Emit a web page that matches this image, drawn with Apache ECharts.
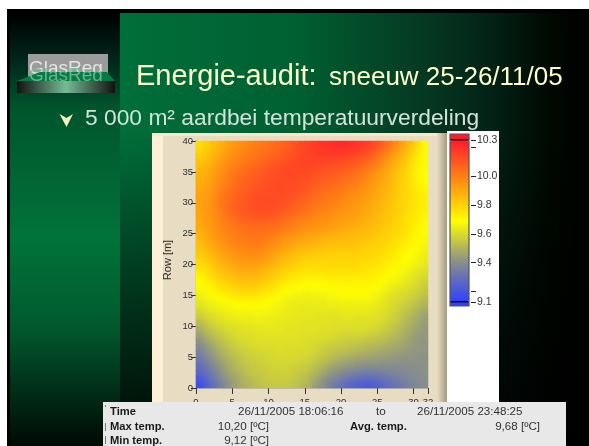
<!DOCTYPE html>
<html><head><meta charset="utf-8">
<style>html,body{margin:0;padding:0;background:#fff;overflow:hidden}#c{width:589px;height:446px;position:absolute;left:0;top:0}
#soft{position:absolute;left:196.5px;top:141.5px;width:231px;height:246px;overflow:hidden;pointer-events:none}
#softInner{width:231px;height:246px;filter:blur(3px)}</style>
<script src="https://cdn.jsdelivr.net/npm/echarts@6/dist/echarts.min.js"></script>
</head><body><div id="c"></div><div id="soft"><div id="softInner"></div></div>
<script>
// Temperature, as hundredths of a degree above 9 degC.
// One row per metre from Row 40 (first) down to Row 0 (last), one column per metre 0..32.
const tempRows = [
[77,81,85,88,92,95,97,99,101,102,104,106,108,111,114,116,118,119,120,121,121,120,119,117,114,110,104,98,92,86,78,68],
[79,83,87,90,94,97,99,101,103,104,106,108,110,112,114,116,117,118,119,119,119,118,116,114,110,105,100,94,89,83,76,68],
[81,85,89,92,96,98,100,102,104,105,107,109,111,112,114,115,116,116,116,116,115,114,112,110,106,101,96,91,86,81,74,68],
[84,87,91,94,98,100,102,104,106,108,110,111,113,114,115,115,115,114,113,113,112,110,108,105,102,98,93,88,84,79,73,68],
[86,89,92,96,100,102,104,106,108,110,112,113,114,114,114,114,113,112,111,110,109,107,105,102,98,95,90,86,82,78,72,68],
[88,90,94,97,101,104,106,108,110,111,112,113,114,114,113,113,111,110,109,108,106,104,102,99,96,93,89,85,81,77,72,69],
[89,91,95,99,102,105,107,109,110,112,113,113,113,113,112,111,110,108,107,105,104,102,100,97,94,91,88,84,80,77,73,70],
[90,92,96,100,103,106,108,110,111,112,113,113,113,113,112,110,108,106,105,103,102,100,98,95,92,90,87,83,80,77,74,71],
[91,93,97,101,104,107,109,111,112,113,113,113,113,112,110,108,106,104,103,102,100,98,96,94,91,89,86,83,80,77,75,72],
[92,94,98,102,105,108,110,112,113,113,113,113,112,110,108,106,104,103,101,100,98,96,94,92,90,88,85,82,80,77,75,73],
[92,94,98,102,106,108,110,112,113,113,113,112,110,108,106,104,102,101,100,98,97,95,93,91,89,87,84,82,79,77,75,73],
[91,94,97,101,105,108,110,111,112,112,111,110,108,106,104,102,100,99,98,96,95,93,92,90,88,86,84,81,79,76,74,72],
[91,94,97,100,103,106,108,109,110,110,109,107,105,103,101,100,98,97,96,94,93,92,90,89,87,85,83,81,78,76,73,71],
[90,93,96,99,101,103,105,106,106,106,105,104,102,100,99,97,96,95,94,92,91,90,89,87,86,84,82,80,78,75,73,70],
[89,92,95,98,100,102,103,104,104,104,103,101,99,98,96,95,93,92,91,90,89,88,87,86,84,83,81,79,77,74,72,69],
[87,90,94,97,99,101,102,103,103,102,100,98,96,94,93,91,90,89,88,87,87,86,85,84,83,81,80,78,76,73,71,68],
[85,89,92,95,98,99,100,101,101,100,98,95,93,91,89,88,87,86,85,85,84,84,83,82,81,80,78,76,74,72,70,67],
[83,87,90,93,96,97,99,99,99,97,95,92,90,88,86,85,84,83,83,82,82,82,82,81,80,79,77,75,73,70,68,66],
[81,84,88,91,93,95,96,97,96,95,92,89,87,85,83,82,81,81,80,80,80,80,80,79,79,77,76,74,71,69,67,65],
[78,81,85,88,91,93,94,94,93,92,89,86,84,82,80,79,79,79,79,79,79,79,78,78,77,76,74,72,70,68,66,64],
[76,79,83,86,88,90,91,91,90,89,86,84,81,79,78,77,77,77,78,78,78,78,77,77,76,74,72,70,68,66,64,62],
[73,76,80,83,85,87,88,88,87,85,83,80,78,76,75,75,75,75,75,75,75,75,75,74,73,72,70,68,66,64,62,60],
[70,73,77,80,82,84,85,85,84,82,80,77,75,73,72,71,71,71,72,73,73,73,73,73,72,70,68,66,65,62,60,58],
[68,71,74,77,79,81,82,82,81,79,77,74,71,70,69,69,69,69,70,71,71,71,71,71,70,68,66,64,63,61,59,56],
[66,68,71,73,76,77,78,78,77,75,73,71,69,67,67,66,67,67,68,68,69,69,70,69,68,66,64,62,61,59,57,54],
[64,66,68,70,72,73,74,74,73,71,70,68,66,65,65,65,65,65,66,66,67,67,67,67,66,64,62,60,59,57,55,52],
[62,64,66,67,68,69,70,70,70,69,67,66,65,64,64,64,64,64,65,65,65,65,65,65,64,63,61,59,57,55,52,50],
[59,62,63,65,66,66,67,67,67,67,66,65,64,64,63,63,63,63,63,63,64,64,64,64,63,62,60,58,55,53,50,47],
[56,59,61,63,64,65,65,65,66,65,65,64,64,63,63,63,62,62,62,62,63,63,62,62,62,61,59,57,54,51,48,45],
[52,56,59,61,62,63,63,64,64,64,64,63,63,63,62,62,62,62,62,61,61,61,61,61,60,59,57,55,52,49,47,44],
[48,53,56,58,60,61,62,62,63,63,63,63,62,62,62,62,62,61,61,61,60,60,60,60,59,57,55,53,50,48,45,43],
[45,50,53,56,58,60,61,61,62,62,62,62,62,62,61,61,61,60,60,59,58,58,58,57,56,55,53,51,49,46,44,43],
[41,46,50,53,56,58,59,60,61,61,61,61,61,61,61,60,60,59,58,57,56,56,55,54,53,52,50,49,47,45,43,42],
[38,43,47,51,54,56,58,59,60,60,60,61,60,60,60,60,58,57,56,55,54,53,52,51,50,49,48,47,45,44,43,42],
[35,40,45,49,52,54,56,57,58,59,59,60,60,60,59,59,57,56,54,52,51,50,49,48,47,46,45,44,43,43,42,42],
[32,37,42,46,50,52,55,56,57,58,59,59,59,59,58,57,55,53,51,49,47,46,45,44,44,43,43,42,42,41,41,41],
[29,34,39,44,48,51,53,55,56,57,58,58,58,57,56,55,53,50,47,45,43,42,41,40,40,40,40,40,40,40,41,41],
[26,31,36,42,46,49,52,54,55,56,57,57,57,56,55,53,50,47,43,41,38,36,35,34,34,35,36,37,38,39,40,41],
[22,27,33,39,44,47,50,52,54,55,56,56,56,55,53,51,47,43,39,36,33,31,29,28,29,30,32,34,36,38,39,40],
[17,24,30,36,42,46,49,51,53,54,55,55,55,54,52,49,44,40,35,31,28,25,23,22,23,25,28,31,33,36,38,40]
];
const scaleTicks = [9.127, 9.204, 9.4, 9.6, 9.8, 10.0, 10.204, 10.253];
const scaleLabels = [9.127, 9.4, 9.6, 9.8, 10.0, 10.253];
const scaleColors = ['#2e40ff','#8a9088','#ffff00','#ff8c12','#ff1a30'];
const tableLeft = [['Time',110,412],['Max temp.',110,427],['Min temp.',110,441],['Avg. temp.',350,427]];
const tableRest = [['26/11/2005 18:06:16',238,412,'left'],['to',376,412,'left'],['26/11/2005 23:48:25',417,412,'left'],
  ['10,20 [ºC]',269,427,'right'],['9,12 [ºC]',269,441,'right'],['9,68 [ºC]',540,427,'right']];

const nCols = tempRows[0].length, nRows = tempRows.length;
const cols = Array.from({length:nCols},(_,i)=>i), rows = Array.from({length:nRows},(_,i)=>i);
const cells = [];
tempRows.forEach((r,ri)=>r.forEach((v,ci)=>cells.push([ci,nRows-1-ri,9+v/100])));

const F='"Liberation Sans",Arial,sans-serif';
const rect=(x,y,w,h,fill,z)=>({type:'rect',shape:{x,y,width:w,height:h},style:{fill},z,silent:true});
const txt=(t,x,y,font,fill,z,align,base)=>({type:'text',x,y,z,silent:true,style:{text:t,font,fill,textAlign:align||'left',textVerticalAlign:base||'middle'}});
const lin=(h,stops)=>({type:'linear',x:0,y:0,x2:h?1:0,y2:h?0:1,colorStops:stops.map(s=>({offset:s[0],color:s[1]}))});

const elements=[
 rect(7,9,582,437,'#000',-20),
 rect(120,13,469,433,lin(true,[[0,'#006f3a'],[0.38,'#005f31'],[0.64,'#053a22'],[0.78,'#032418'],[0.92,'#000800'],[1,'#000']]),-19),
 rect(120,130,469,316,lin(false,[[0,'rgba(0,0,0,0)'],[0.5,'rgba(0,0,0,0.5)'],[0.85,'rgba(0,0,0,0.8)'],[1,'rgba(0,0,0,0.9)']]),-18),
 rect(10,13,110,433,lin(false,[[0,'#000'],[0.1,'#01231a'],[0.22,'#00552c'],[0.52,'#00733a'],[0.72,'#005a2e'],[0.88,'#002c16'],[1,'#000a05']]),-19),
 rect(152,133,295,270,'#e8dcc3',-10),
 rect(152,133,11,270,'#fdf0d6',-9),
 rect(152,133,295,3,'#f5e8cd',-9),
 rect(437,133,10,270,lin(true,[[0,'#e8dcc3'],[1,'#a89a82']]),-9),
 rect(447,131,52,272,'#fff',-10),
 rect(450,134,19,6,'#ff1a30',5),
 rect(450,301,19,5,'#2e40ff',5),
 rect(450,139,19,1.5,'#111',6),
 rect(450,301,19,1.5,'#111',6),
 {type:'rect',shape:{x:450,y:134,width:19,height:172},style:{fill:'none',stroke:'#555',lineWidth:1.2},z:7,silent:true},
 rect(28,54,80,28,'#9b9b9b',-5),
 txt('GlasReg',29,69,'19px '+F,'#e4e4e4',-4),
 {type:'polygon',shape:{points:[[17,81],[40,72],[107,72],[115,81]]},style:{fill:'#047a45'},z:-4,silent:true},
 txt('GlasReg',29,76,'19px '+F,'rgba(120,190,150,0.85)',-3),
 rect(17,81,98,12,lin(true,[[0,'#111'],[0.5,'#76bb96'],[1,'#111']]),-3),
 txt('Energie-audit:',136,77,'29px '+F,'#ffffcc',5),
 txt('sneeuw 25-26/11/05',329,78,'26px '+F,'#ffffcc',5),
 {type:'polygon',shape:{points:[[59.5,114],[66.5,118],[73,114],[66.5,127]]},style:{fill:'#f4f4c0'},z:5,silent:true},
 txt('5 000 m² aardbei temperatuurverdeling',85,119,'22.8px '+F,'#d2e4da',5),
 rect(103,402,463,44,'#e8e8e8',100),
 rect(105,423,1,8,'#777',101),
 rect(105,436,1,8,'#777',101),
 rect(105,405,1,2,'#777',101),
 ...tableLeft.map(t=>txt(t[0],t[1],t[2],'bold 11.2px '+F,'#1a1a1a',101)),
 ...tableRest.map(t=>txt(t[0],t[1],t[2],'11.6px '+F,'#333',101,t[3]))
];

const axisText={color:'#2e2e2e',fontSize:9.5,fontFamily:F};
const chart=echarts.init(document.getElementById('c'),null,{renderer:'canvas'});
chart.setOption({
 animation:false,
 grid:[{left:196,top:141,width:232,height:247,show:false},{left:471,top:140,width:1,height:162,show:false}],
 xAxis:[
  {type:'category',data:cols,gridIndex:0,show:false},
  {type:'value',gridIndex:0,min:0,max:32,interval:5,position:'bottom',
   axisLine:{show:true,lineStyle:{color:'#bdbdb5'}},axisTick:{show:true,length:6,lineStyle:{color:'#333'}},
   axisLabel:{...axisText,margin:9,showMinLabel:true,showMaxLabel:true},splitLine:{show:false}},
  {type:'value',gridIndex:1,show:false,min:0,max:1}
 ],
 yAxis:[
  {type:'category',data:rows,gridIndex:0,show:false},
  {type:'value',gridIndex:0,min:0,max:40,interval:5,position:'left',name:'Row [m]',nameLocation:'middle',nameGap:23,
   nameTextStyle:{color:'#2e2e2e',fontSize:11,fontFamily:F,padding:[0,0,0,9]},
   axisLine:{show:true,lineStyle:{color:'#666',width:1.2}},axisTick:{show:true,length:5,lineStyle:{color:'#333'}},
   axisLabel:{...axisText,margin:3},splitLine:{show:false}},
  {type:'value',gridIndex:1,min:9.127,max:10.253,position:'left',
   axisLine:{show:false},splitLine:{show:false},
   axisTick:{show:true,inside:true,length:5,lineStyle:{color:'#222'},customValues:scaleTicks},
   axisLabel:{inside:true,margin:6,color:'#333',fontSize:10.5,fontFamily:F,customValues:scaleLabels,
     formatter:v=>Number(v).toFixed(1),showMinLabel:true,showMaxLabel:true}}
 ],
 visualMap:{type:'continuous',seriesIndex:0,min:9.127,max:10.253,left:450,top:140,itemWidth:19,itemHeight:162,
   calculable:false,realtime:false,text:null,showLabel:false,padding:0,hoverLink:false,
   inRange:{color:scaleColors}},
 series:[{type:'heatmap',xAxisIndex:0,yAxisIndex:0,data:cells,silent:true,progressive:0,
   itemStyle:{borderWidth:0},emphasis:{disabled:true}}],
 graphic:{elements}
});
// The same heatmap once more, softened, laid exactly over the plot area: the reference field is continuous.
const soft=echarts.init(document.getElementById('softInner'),null,{renderer:'canvas'});
soft.setOption({
 animation:false,
 grid:{left:0,top:0,right:0,bottom:0,show:false},
 xAxis:{type:'category',data:cols,show:false},
 yAxis:{type:'category',data:rows,show:false},
 visualMap:{type:'continuous',show:false,seriesIndex:0,min:9.127,max:10.253,inRange:{color:scaleColors}},
 series:[{type:'heatmap',data:cells,silent:true,progressive:0,itemStyle:{borderWidth:0},emphasis:{disabled:true}}]
});
</script></body></html>
